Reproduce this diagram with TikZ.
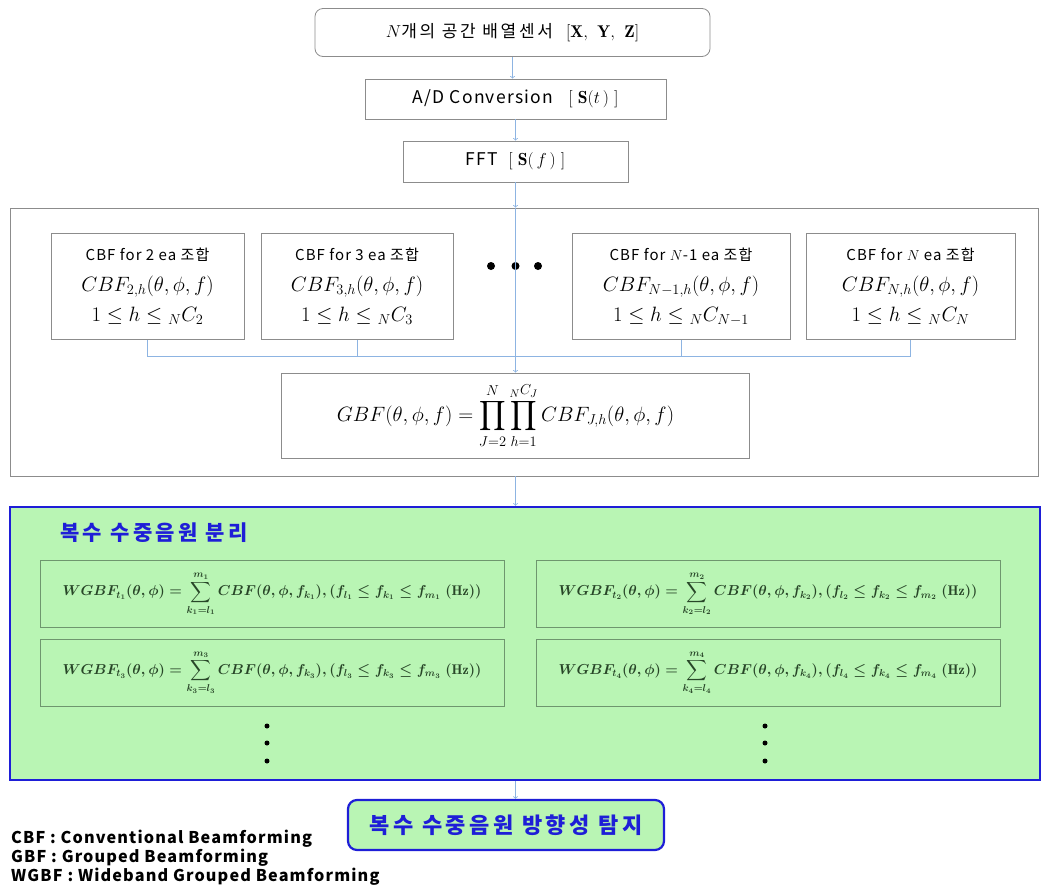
\documentclass[tikz,border=0pt]{standalone}
\usepackage{fontspec}
\usepackage{amsmath}
\newfontfamily\kr{Noto Sans CJK KR}
\newfontfamily\krw{Noto Sans CJK KR}[LetterSpace=7.0]
\newfontfamily\krwide{Noto Sans CJK KR}[LetterSpace=16.0]
\usetikzlibrary{positioning}
\definecolor{linkblue}{RGB}{141,180,226}
\definecolor{boxgray}{RGB}{140,140,140}
\definecolor{sepgreen}{RGB}{185,245,180}
\definecolor{sepblue}{RGB}{30,30,215}
\definecolor{wgline}{RGB}{110,150,110}
\definecolor{wgtext}{RGB}{40,70,40}
\tikzset{
  conn/.style={draw=linkblue, line width=0.8pt, ->},
  plainbox/.style={draw=boxgray, line width=0.8pt, inner sep=0pt, align=center},
  cbfbox/.style={plainbox, minimum height=106pt, font=\fontsize{20}{23}\selectfont},
  wgbox/.style={draw=wgline, line width=0.8pt, inner sep=0pt, minimum width=464pt,
    minimum height=67pt, text=wgtext, font=\mathversion{bold}\fontsize{14}{16}\selectfont},
  dot/.style={circle, fill=black, inner sep=0pt, minimum size=#1},
  legend/.style={anchor=west, inner sep=0pt, font=\krw\bfseries\fontsize{16.2}{18}\selectfont},
}
\newcommand{\cbftext}[3]{{\krw\fontsize{15}{18}\selectfont CBF for #1 ea 조합}\\[8pt]
  $CBF_{#2,h}(\theta,\phi,f)$\\[7pt] $1\le h\le {}_{N}C_{#3}$}
\newcommand{\wgbf}[1]{$\displaystyle WGBF_{t_{#1}}(\theta,\phi)=\sum_{k_{#1}=l_{#1}}^{m_{#1}}
  CBF(\theta,\phi,f_{k_{#1}}),(f_{l_{#1}}\le f_{k_{#1}}\le f_{m_{#1}}\ (\mathrm{Hz}))$}
\begin{document}
\begin{tikzpicture}[x=1pt,y=-1pt]
  \useasboundingbox (0,0) rectangle (1044,887);
  % input chain
  \node[plainbox, rounded corners=8pt, minimum width=395pt, minimum height=48pt,
    font=\krwide\fontsize{17}{20}\selectfont] (sensor) at (512.5,32.5)
    {$N$개의 공간 배열센서 \ $[\mathbf{X},\ \mathbf{Y},\ \mathbf{Z}]$};
  \node[plainbox, minimum width=301pt, minimum height=40pt,
    font=\krw\fontsize{17.5}{20}\selectfont] (adc) at (515.5,99)
    {A/D Conversion \ \ $[\ \mathbf{S}(t\,)\ ]$};
  \node[plainbox, minimum width=225pt, minimum height=41pt,
    font=\krw\fontsize{17.5}{20}\selectfont] (fft) at (515.5,161.5)
    {FFT \ $[\ \mathbf{S}(\,f\,)\ ]$};
  % grouped beamforming stage
  \node[plainbox, minimum width=1028pt, minimum height=268pt] (outer) at (524,342) {};
  \node[cbfbox, minimum width=193pt] (cbf1) at (147.5,286.5) {\cbftext{2}{2}{2}};
  \node[cbfbox, minimum width=192pt] (cbf2) at (357,286.5) {\cbftext{3}{3}{3}};
  \node[cbfbox, minimum width=218pt] (cbf3) at (681,286.5) {\cbftext{$N$-1}{N-1}{N-1}};
  \node[cbfbox, minimum width=209pt] (cbf4) at (910.5,286.5) {\cbftext{$N$}{N}{N}};
  \node[dot=8pt] (d1) at (491,266) {};
  \node[dot=8pt] (d2) at (515.5,266) {};
  \node[dot=8pt] (d3) at (538,266) {};
  \node[plainbox, minimum width=468pt, minimum height=85pt,
    font=\fontsize{21}{25}\selectfont] (gbf) at (515.5,415.5)
    {$\displaystyle GBF(\theta,\phi,f)=\prod_{J=2}^{N}\prod_{h=1}^{{}_{N}C_{J}}CBF_{J,h}(\theta,\phi,f)$\hspace{20pt}};
  % separation stage
  \node[draw=sepblue, fill=sepgreen, line width=2.5pt, minimum width=1030pt,
    minimum height=273pt, inner sep=0pt] (sep) at (525,643.5) {};
  \node[text=sepblue, font=\krwide\bfseries\fontsize{21}{24}\selectfont] (septitle) at (154,533)
    {복수 수중음원 분리};
  \node[wgbox] (wg1) at (272,594) {\wgbf{1}};
  \node[wgbox] (wg2) at (768,594) {\wgbf{2}};
  \node[wgbox] (wg3) at (272,672.5) {\wgbf{3}};
  \node[wgbox] (wg4) at (768,672.5) {\wgbf{4}};
  \foreach \yy/\nm in {726/a,743/b,761/c}{
    \node[dot=5pt] (l\nm) at (267,\yy) {};
    \node[dot=5pt] (r\nm) at (765,\yy) {};
  }
  \node[draw=sepblue, fill=sepgreen, line width=2.2pt, rounded corners=9pt,
    minimum width=316pt, minimum height=50pt, text=sepblue,
    font=\krwide\bfseries\fontsize{22}{25}\selectfont] (final) at (506,825)
    {복수 수중음원 방향성 탐지};
  % legend
  \node[legend] (leg1) at (11,839) {CBF : Conventional Beamforming};
  \node[legend] (leg2) at (11,858) {GBF : Grouped Beamforming};
  \node[legend] (leg3) at (11,877) {WGBF : Wideband Grouped Beamforming};
  % connectors
  \draw[conn] (sensor) -- (sensor |- adc.north);
  \draw[conn] (adc) -- (fft);
  \draw[conn] (fft) -- (outer.north -| fft.south);
  \draw[conn] (outer.north -| fft.south) -- (gbf);
  \draw[draw=linkblue, line width=0.8pt] (cbf1.south) -- ++(0,16) -| (cbf4.south);
  \draw[draw=linkblue, line width=0.8pt] (cbf2.south) -- ++(0,16);
  \draw[draw=linkblue, line width=0.8pt] (cbf3.south) -- ++(0,16);
  \draw[conn] (outer.south -| gbf.south) -- (sep.north -| gbf.south);
  \draw[conn] (sep.south -| gbf.south) -- (final.north -| gbf.south);
\end{tikzpicture}
\end{document}
